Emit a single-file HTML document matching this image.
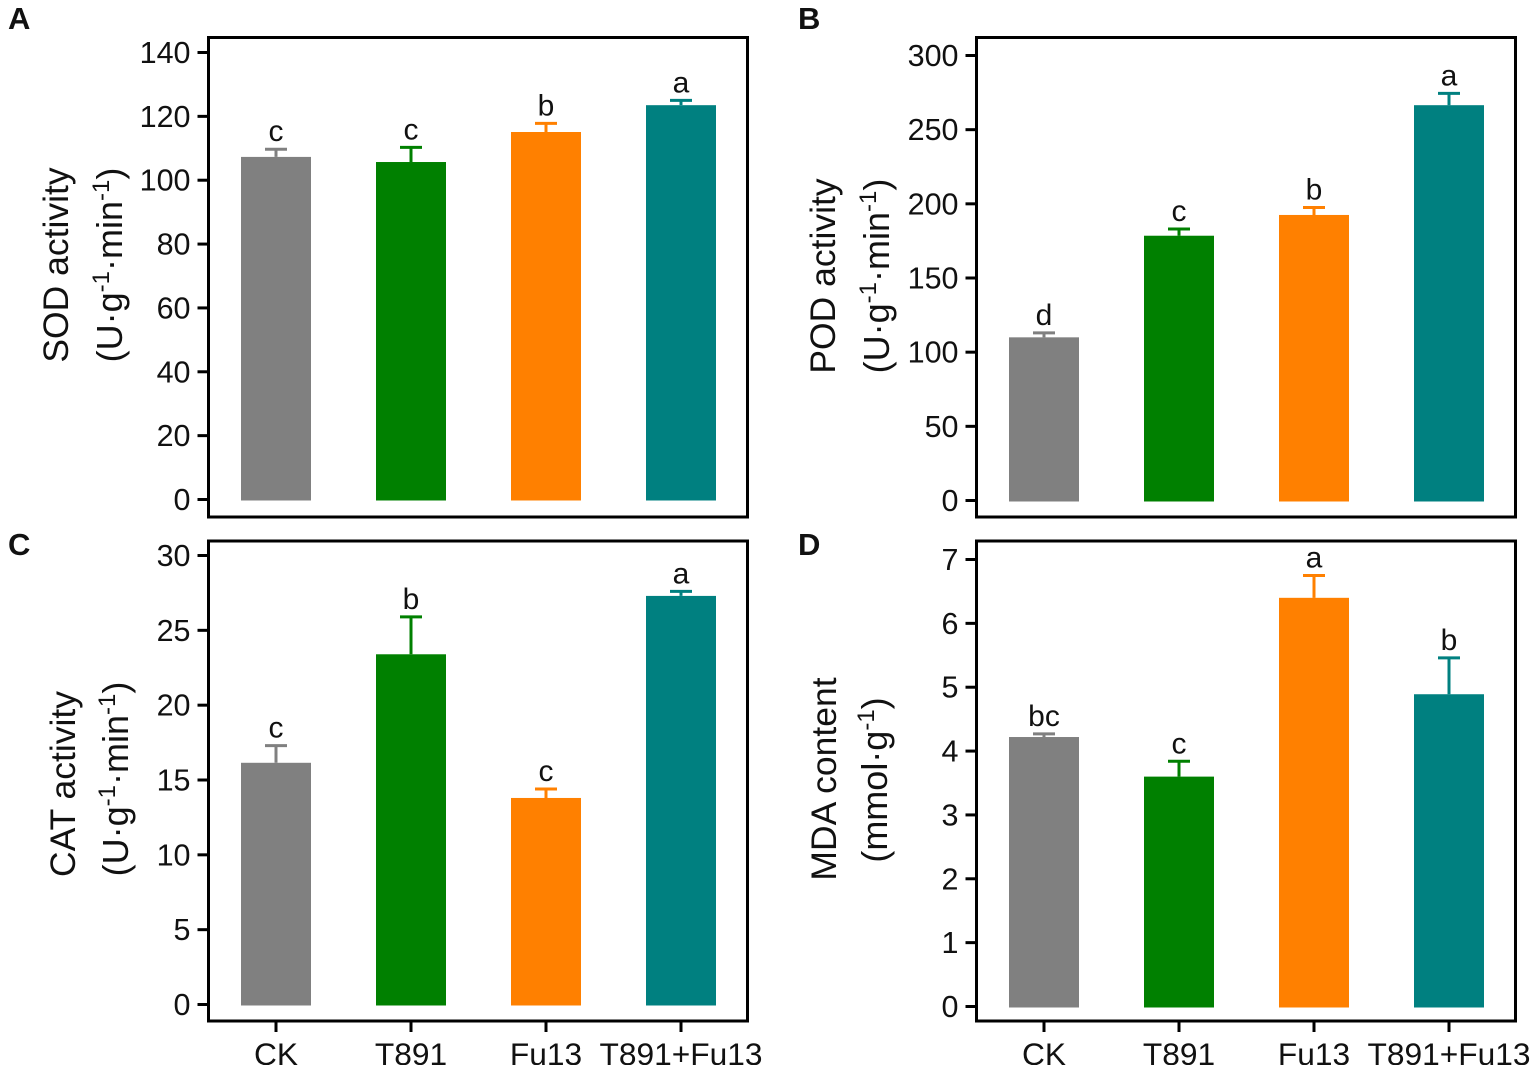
<!DOCTYPE html>
<html lang="en">
<head>
<meta charset="utf-8">
<title>Enzyme activity bar charts</title>
<style>
html,body{margin:0;padding:0;background:#fff;}
svg{display:block;}
text{font-family:"Liberation Sans",Arial,sans-serif;fill:#111;}
</style>
</head>
<body>
<svg id="chart" xmlns="http://www.w3.org/2000/svg" width="1535" height="1065" viewBox="0 0 1535 1065"></svg>
<script>
const categories = ["CK", "T891", "Fu13", "T891+Fu13"];
const colors = ["#808080", "#008000", "#ff8000", "#008080"];

const sodValues = [107.3, 105.7, 115.1, 123.5];
const sodErrorTops = [109.7, 110.3, 117.8, 125];
const sodLetters = ["c", "c", "b", "a"];
const sodTicks = [0, 20, 40, 60, 80, 100, 120, 140];

const podValues = [110, 178.5, 192.5, 266.5];
const podErrorTops = [113, 183, 197.5, 274.5];
const podLetters = ["d", "c", "b", "a"];
const podTicks = [0, 50, 100, 150, 200, 250, 300];

const catValues = [16.15, 23.4, 13.8, 27.3];
const catErrorTops = [17.3, 25.9, 14.4, 27.6];
const catLetters = ["c", "b", "c", "a"];
const catTicks = [0, 5, 10, 15, 20, 25, 30];

const mdaValues = [4.22, 3.6, 6.4, 4.89];
const mdaErrorTops = [4.27, 3.84, 6.75, 5.46];
const mdaLetters = ["bc", "c", "a", "b"];
const mdaTicks = [0, 1, 2, 3, 4, 5, 6, 7];

const NS = "http://www.w3.org/2000/svg";
const root = document.getElementById("chart");

function make(parent, tag, attrs, txt) {
  const el = document.createElementNS(NS, tag);
  for (const k in attrs) el.setAttribute(k, attrs[k]);
  if (txt !== undefined) el.textContent = txt;
  parent.appendChild(el);
  return el;
}

function addTitleLine(group, x, y, parts, name, size) {
  const t = make(group, "text", {
    transform: "translate(" + x + "," + y + ") rotate(-90)",
    "text-anchor": "middle",
    "font-size": size
  });
  
  
  let shift = 0;
  parts.forEach(function (p) {
    const dy = (p.sup ? -13 : 0) - shift;
    shift = p.sup ? -13 : 0;
    const span = make(t, "tspan", { dy: dy }, p.t);
    if (p.sup) span.setAttribute("font-size", "24");
  });
}

function drawPanel(cfg) {
  const g = make(root, "g", {});
  
  

  const yScale = function (v) {
    return cfg.y0 + (cfg.yMax - cfg.y0) * v / cfg.domainMax;
  };
  const xScale = function (i) {
    return cfg.left + 67.5 + i * 135;
  };

  const label = make(g, "text", { x: cfg.labelX, y: cfg.labelY, "font-size": 31, "font-weight": "bold" }, cfg.letter);
  
  

  categories.forEach(function (c, i) {
    const cx = xScale(i);
    const top = yScale(cfg.values[i]);
    const errTop = yScale(cfg.errs[i]);

    const err = make(g, "path", {
      d: "M" + cx + " " + top + "V" + errTop + "M" + (cx - 11) + " " + errTop + "H" + (cx + 11),
      stroke: colors[i], "stroke-width": 3, fill: "none"
    });
    
    

    const bar = make(g, "rect", {
      x: cx - 35, y: top, width: 70, height: cfg.y0 - top + 1, fill: colors[i]
    });
    
    

    const sig = make(g, "text", {
      x: cx, y: errTop - 8, "text-anchor": "middle", "font-size": 30
    }, cfg.letters[i]);
    
    
  });

  const frame = make(g, "rect", {
    x: cfg.left, y: cfg.top, width: 539, height: cfg.bottom - cfg.top,
    fill: "none", stroke: "#000", "stroke-width": 3
  });
  
  

  cfg.ticks.forEach(function (v) {
    const y = yScale(v);
    const tick = make(g, "line", {
      x1: cfg.left - 11, x2: cfg.left, y1: y, y2: y, stroke: "#000", "stroke-width": 3
    });
    
    
    const lab = make(g, "text", {
      x: cfg.left - 18, y: y + 10.5, "text-anchor": "end", "font-size": 30.5
    }, String(v));
    
    
  });

  if (cfg.showX) {
    categories.forEach(function (c, i) {
      const cx = xScale(i);
      const tick = make(g, "line", {
        x1: cx, x2: cx, y1: cfg.bottom, y2: cfg.bottom + 11, stroke: "#000", "stroke-width": 3
      });
      
      
      const lab = make(g, "text", {
        x: cx, y: cfg.bottom + 44, "text-anchor": "middle", "font-size": 31.7
      }, c);
      
      
    });
  }

  addTitleLine(g, cfg.t1x, cfg.t1y, [{ t: cfg.title }], 'y-axis-title-' + cfg.key, 35.5);
  addTitleLine(g, cfg.t2x, cfg.t2y, cfg.unit, 'y-axis-unit-' + cfg.key, 36);
}

const enzymeUnit = [
  { t: "(U·g" }, { t: "-1", sup: true }, { t: "·min" }, { t: "-1", sup: true }, { t: ")" }
];

drawPanel({
  key: "sod", letter: "A", labelX: 8, labelY: 29, left: 208.5, top: 37.5, bottom: 517,
  y0: 499.5, yMax: 52.5, domainMax: 140, ticks: sodTicks,
  values: sodValues, errs: sodErrorTops, letters: sodLetters,
  title: "SOD activity", t1x: 68, t1y: 265, t2x: 122, t2y: 265, unit: enzymeUnit, showX: false
});
drawPanel({
  key: "pod", letter: "B", labelX: 798, labelY: 29, left: 976.5, top: 37.5, bottom: 517,
  y0: 500.5, yMax: 55.5, domainMax: 300, ticks: podTicks,
  values: podValues, errs: podErrorTops, letters: podLetters,
  title: "POD activity", t1x: 835, t1y: 276, t2x: 889, t2y: 276, unit: enzymeUnit, showX: false
});
drawPanel({
  key: "cat", letter: "C", labelX: 8, labelY: 555, left: 208.5, top: 541, bottom: 1021,
  y0: 1004.5, yMax: 555.5, domainMax: 30, ticks: catTicks,
  values: catValues, errs: catErrorTops, letters: catLetters,
  title: "CAT activity", t1x: 75, t1y: 784, t2x: 128, t2y: 779, unit: enzymeUnit, showX: true
});
drawPanel({
  key: "mda", letter: "D", labelX: 798, labelY: 555, left: 976.5, top: 541, bottom: 1021,
  y0: 1006.5, yMax: 559.5, domainMax: 7, ticks: mdaTicks,
  values: mdaValues, errs: mdaErrorTops, letters: mdaLetters,
  title: "MDA content", t1x: 836, t1y: 779, t2x: 887, t2y: 780,
  unit: [{ t: "(mmol·g" }, { t: "-1", sup: true }, { t: ")" }], showX: true
});
</script>
</body>
</html>
